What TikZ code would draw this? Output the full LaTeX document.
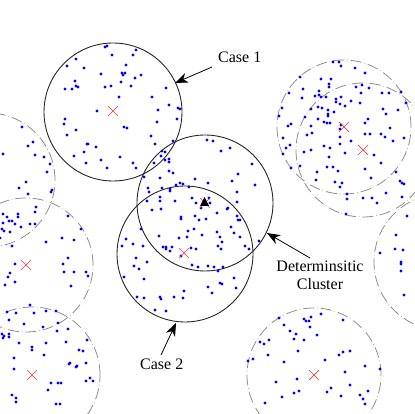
\documentclass[tikz,border=0pt]{standalone}
\usepackage{fontspec}
\setmainfont{Liberation Serif}
\usetikzlibrary{arrows.meta}
\definecolor{dotblue}{rgb}{0,0,1}
\definecolor{xred}{rgb}{0.95,0.2,0.2}
\definecolor{dgray}{gray}{0.55}
\tikzset{
 dashcirc/.style={draw=dgray, line width=0.8pt, dash pattern=on 11pt off 3pt on 0.5pt off 3pt},
 solidcirc/.style={draw=black!85, line width=0.9pt},
 arr/.style={draw=black, line width=0.8pt, -{Stealth[length=13pt,width=10pt,inset=4pt]}},
 lbl/.style={inner sep=0pt, font=\fontsize{16}{18}\selectfont},
 xmark/.style={draw=xred, line width=0.7pt},
 dot/.style={fill=dotblue}
}
\begin{document}
\begin{tikzpicture}[x=1pt,y=-1pt]
\useasboundingbox (0,0) rectangle (415,414);
\clip (0,0) rectangle (415,414);
% dashed circles
\foreach \cx/\cy/\r in {-12/180/67, 26/265/67, 32/375/68, 344/127/67, 363/150/67, 442/262/68, 314/375/67}
  \draw[dashcirc] (\cx,\cy) circle (\r pt);
% dots
\foreach \x/\y in {105/47,107/46,112/55,133/55,136/50,76/59,67/66,84/68,126/65,101/74,122/73,123/75,125/73,141/75,135/78,75/81,121/82,111/86,105/87,131/86,76/86,78/87,65/89,72/89,166/88,119/97,152/97,169/105,180/109,178/108,158/110,97/111,177/119,65/119,64/124,76/130,67/135,87/144,88/144,96/147,84/152,74/156,101/160,86/163,107/168,22/127,3/154,33/142,28/146,35/155,44/157,50/164,47/172,26/182,19/188,28/194,52/190,51/192,36/207,
333/62,339/62,341/66,355/68,365/73,300/77,321/79,331/79,329/84,329/87,289/93,303/89,319/91,319/95,321/97,326/97,336/99,341/97,356/87,362/85,369/88,361/93,382/93,389/93,401/92,302/98,315/96,406/103,340/104,336/102,351/101,360/103,345/106,282/108,311/109,318/107,322/108,328/110,334/112,279/116,305/117,328/114,328/116,318/119,324/122,327/123,330/123,383/109,386/114,398/110,368/119,365/123,288/126,291/124,311/126,341/125,340/129,390/128,312/133,307/135,283/138,340/137,365/134,370/134,381/134,385/137,404/138,393/141,351/141,340/144,304/152,311/150,324/146,330/148,286/148,290/145,283/154,345/153,329/157,374/155,381/163,300/166,291/168,327/167,333/167,338/171,317/172,365/169,396/172,316/180,335/182,342/183,340/187,371/178,400/181,402/183,404/184,347/194,347/199,363/198,372/198,386/193,377/203,402/197,
3/214,7/217,18/214,18/217,9/221,12/221,15/224,3/223,21/227,30/224,35/212,35/224,2/229,4/231,10/232,0/238,12/246,81/229,68/216,46/242,62/238,74/240,68/258,63/264,15/264,10/273,8/277,15/282,5/285,64/272,74/272,86/272,88/276,71/286,7/312,16/313,34/313,30/305,46/311,56/311,9/320,24/324,43/327,58/323,57/331,68/329,9/334,2/334,4/336,3/338,9/337,19/343,32/347,32/350,46/343,44/355,66/342,79/350,83/351,87/340,14/358,14/369,70/363,69/364,77/366,76/367,86/363,90/378,93/381,86/381,51/383,58/383,61/383,48/390,12/395,16/398,16/402,56/404,60/404,
133/244,143/246,122/246,163/247,166/247,166/249,172/247,170/251,181/256,191/248,196/249,192/265,198/267,136/258,134/266,139/269,147/262,124/277,144/279,208/287,184/291,137/297,144/298,160/297,161/299,174/297,183/298,155/310,166/311,
222/242,218/246,221/249,245/246,249/249,259/241,208/266,214/267,218/271,223/267,234/278,220/283,222/284,236/288,212/293,346/214,407/216,396/235,395/249,403/250,380/253,401/262,401/264,401/271,404/295,
279/318,284/325,304/319,306/321,309/321,311/317,321/314,343/320,310/327,290/331,296/334,317/335,294/339,304/340,260/342,264/344,269/340,298/351,268/355,325/360,339/355,343/352,350/351,248/361,253/359,284/362,365/366,380/369,345/372,297/379,276/382,350/385,331/388,327/392,299/391,294/393,282/397,341/396,360/395,368/391,363/399,265/403,365/404,
124/127,127/128,157/122,151/136,155/144,120/157,133/163,136/168,173/141,162/151,165/152,161/156,165/160,169/159,169/162,154/163,169/171,173/173,144/177,160/178,207/140,213/141,221/151,230/148,252/164,238/174,232/181,255/185,195/179,208/183,176/185,180/183,183/184,148/188,149/192,162/188,170/189,170/191,189/187,160/197,160/201,147/201,175/201,192/198,196/203,209/198,210/203,201/208,237/192,237/202,227/209,228/208,217/213,152/210,161/209,237/216,238/220,240/220,231/227,181/217,181/219,195/216,199/220,206/219,217/232,220/237,188/231,194/229,202/235,159/236,141/229,126/239,240/237,234/233,179/238,187/237}
  \fill[dot] (\x,\y) circle (1.55pt);
% solid circles
\draw[solidcirc] (113,112) circle (69pt);
\draw[solidcirc] (205,203) circle (68pt);
\draw[solidcirc] (185,254) circle (68pt);
% red centre marks
\foreach \x/\y in {113/111, 26/265, 32/375, 344/127, 363/150, 314/375, 184/253, 205/203}
  \draw[xmark, shift={(\x,\y)}] (-5,-5) -- (5,5) (-5,5) -- (5,-5);
% deterministic cluster centre
\fill[black] (200,206) -- (204.5,197) -- (209,206) -- cycle;
% labels and arrows
\node[lbl, anchor=base west] (case1) at (218,63) {Case 1};
\node[lbl, anchor=base west] (case2) at (140,369) {Case 2};
\node[lbl, align=center, anchor=north] (det) at (320,261) {Determinsitic\\Cluster};
\coordinate (c1tail) at (212,67);
\coordinate (c1tip) at (175,83);
\coordinate (c2tail) at (161,355);
\coordinate (c2tip) at (176,323);
\coordinate (dtail) at (310,258);
\coordinate (dtip) at (267,233);
\draw[arr] (c1tail) -- (c1tip);
\draw[arr] (c2tail) -- (c2tip);
\draw[arr] (dtail) -- (dtip);
\end{tikzpicture}
\end{document}
